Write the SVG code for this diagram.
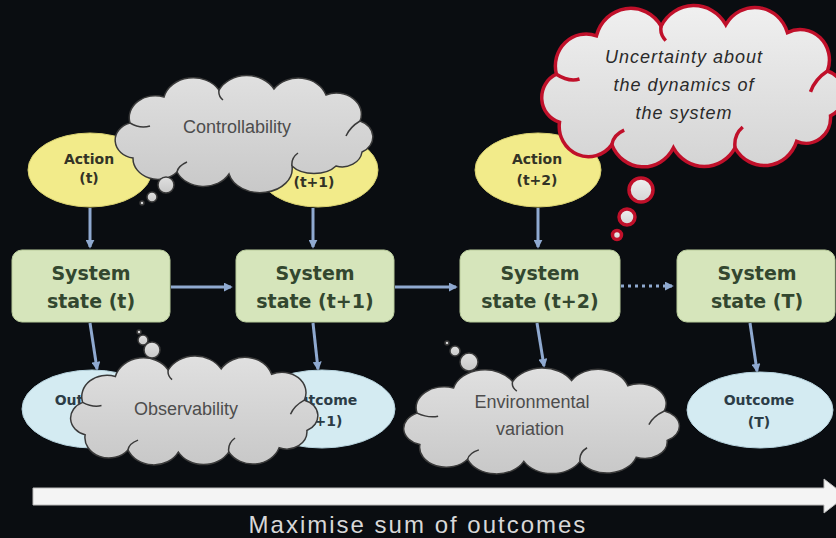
<svg xmlns="http://www.w3.org/2000/svg" xmlns:xlink="http://www.w3.org/1999/xlink" width="836" height="538" viewBox="0 0 836 538">
<defs>
<style>
.box{fill:#d6e5bb;stroke:#b9cc9c;stroke-width:1}
.act{fill:#f2eb8a;stroke:#d8d070;stroke-width:1}
.out{fill:#d4ebf2;stroke:#b7d3de;stroke-width:1}
.st{font-family:"DejaVu Sans",sans-serif;font-weight:bold;font-size:19px;fill:#33472f;text-anchor:middle}
.sm{font-family:"DejaVu Sans",sans-serif;font-weight:bold;font-size:14px;fill:#333326;text-anchor:middle}
.so{font-family:"DejaVu Sans",sans-serif;font-weight:bold;font-size:14px;fill:#2c3c46;text-anchor:middle}
.cl{font-family:"Liberation Sans",Arial,sans-serif;font-size:18px;fill:#4d4d4d;text-anchor:middle}
.un{font-family:"Liberation Sans",Arial,sans-serif;font-style:italic;font-size:18px;fill:#2a2a2a;text-anchor:middle;letter-spacing:1px}
.con{stroke:#8fa9d0;stroke-width:3;fill:none}
.grey{fill:url(#gGrey);stroke:#3a3a3a;stroke-width:1.5}
.red{fill:url(#gRed);stroke:#c0102a;stroke-width:3.5}
</style>
<linearGradient id="gGrey" x1="0" y1="0" x2="0" y2="1">
<stop offset="0" stop-color="#e0e0e0"/><stop offset="1" stop-color="#c8c8c8"/>
</linearGradient>
<linearGradient id="gRed" x1="0" y1="0" x2="0" y2="1">
<stop offset="0" stop-color="#f0f0f0"/><stop offset="1" stop-color="#d4d4d4"/>
</linearGradient>
<marker id="ah" viewBox="0 0 10 10" refX="8" refY="5" markerWidth="9" markerHeight="9" markerUnits="userSpaceOnUse" orient="auto">
<path d="M0,0 L10,5 L0,10 Z" fill="#8fa9d0"/>
</marker>
<symbol id="cloud" viewBox="0 0 200 100" preserveAspectRatio="none" style="overflow:visible">
<path vector-effect="non-scaling-stroke" d="M12,72 A16 16 0 0 1 10,42 A20 20 0 0 1 36,18 A23 23 0 0 1 78,12 A24 24 0 0 1 120,11 A22 22 0 0 1 160,16 A19 19 0 0 1 186,40 A15 15 0 0 1 188,68 A16 16 0 0 1 166,84 A22 22 0 0 1 126,88 A23 23 0 0 1 86,88 A22 22 0 0 1 46,86 A19 19 0 0 1 12,72 Z"/>
<path vector-effect="non-scaling-stroke" fill="none" d="M10,42 q8,5 15,3 M186,40 q-8,5 -11,13 M126,88 q-1,-8 5,-13 M46,86 q1,-6 8,-9 M78,12 q-1,5 3,9"/>
</symbol>
</defs>
<rect x="0" y="0" width="836" height="538" fill="#0a0d11"/>

<g id="connectors">
<line class="con" x1="90" y1="208" x2="90" y2="247" marker-end="url(#ah)"/>
<line class="con" x1="313" y1="208" x2="313" y2="247" marker-end="url(#ah)"/>
<line class="con" x1="538" y1="208" x2="538" y2="247" marker-end="url(#ah)"/>
<line class="con" x1="171" y1="287" x2="231" y2="287" marker-end="url(#ah)"/>
<line class="con" x1="395" y1="287" x2="456" y2="287" marker-end="url(#ah)"/>
<line class="con" x1="621" y1="286" x2="672" y2="286" stroke-dasharray="3 4" marker-end="url(#ah)"/>
<line class="con" x1="90" y1="323" x2="97" y2="369" marker-end="url(#ah)"/>
<line class="con" x1="313" y1="323" x2="318" y2="369" marker-end="url(#ah)"/>
<line class="con" x1="537" y1="323" x2="544" y2="366" marker-end="url(#ah)"/>
<line class="con" x1="750" y1="323" x2="757" y2="371" marker-end="url(#ah)"/>
</g>

<g id="action-t">
<ellipse class="act" cx="90" cy="170" rx="62" ry="37"/>
<text class="sm" x="89" y="164">Action</text>
<text class="sm" x="89" y="183">(t)</text>
</g>
<g id="action-t1">
<ellipse class="act" cx="318" cy="170" rx="60" ry="37"/>
<text class="sm" x="314" y="164">Action</text>
<text class="sm" x="314" y="187">(t+1)</text>
</g>
<g id="action-t2">
<ellipse class="act" cx="538" cy="170" rx="63" ry="37"/>
<text class="sm" x="537" y="164">Action</text>
<text class="sm" x="537" y="185">(t+2)</text>
</g>

<g id="state-t">
<rect class="box" x="12" y="250" width="158" height="72" rx="10"/>
<text class="st" x="91" y="280">System</text>
<text class="st" x="91" y="308">state (t)</text>
</g>
<g id="state-t1">
<rect class="box" x="236" y="250" width="158" height="72" rx="10"/>
<text class="st" x="315" y="280">System</text>
<text class="st" x="315" y="308">state (t+1)</text>
</g>
<g id="state-t2">
<rect class="box" x="460" y="250" width="160" height="72" rx="10"/>
<text class="st" x="540" y="280">System</text>
<text class="st" x="540" y="308">state (t+2)</text>
</g>
<g id="state-T">
<rect class="box" x="677" y="250" width="158" height="72" rx="10"/>
<text class="st" x="757" y="280">System</text>
<text class="st" x="757" y="308">state (T)</text>
</g>

<g id="outcome-t">
<ellipse class="out" cx="92" cy="409" rx="70" ry="39"/>
<text class="so" x="90" y="405">Outcome</text>
<text class="so" x="90" y="426">(t)</text>
</g>
<g id="outcome-t1">
<ellipse class="out" cx="322" cy="409" rx="73" ry="39"/>
<text class="so" x="322" y="405">Outcome</text>
<text class="so" x="322" y="426">(t+1)</text>
</g>
<g id="outcome-T">
<ellipse class="out" cx="760" cy="410" rx="73" ry="38"/>
<text class="so" x="759" y="405">Outcome</text>
<text class="so" x="759" y="427">(T)</text>
</g>

<g id="cloud-controllability">
<path class="grey" d="M133,158 A21 18 0 0 1 130,123 A26 22 0 0 1 164,97 A30 25 0 0 1 219,90 A31 26 0 0 1 274,89 A29 24 0 0 1 326,95 A25 21 0 0 1 360,121 A20 17 0 0 1 362,152 A20 17 0 0 1 336,166 A26 16 0 0 1 292,166 A32 24 0 0 1 229,174 A29 24 0 0 1 177,172 A25 21 0 0 1 133,158 Z"/>
<path class="grey" fill="none" d="M130,123 q10,6 20,3 M360,121 q-10,6 -14,15 M292,166 q-1,-8 6,-13 M177,172 q1,-6 10,-10 M219,90 q-1,6 4,10"/>
<circle class="grey" cx="166" cy="185" r="8"/>
<circle class="grey" cx="152" cy="197" r="5"/>
<circle class="grey" cx="142" cy="203" r="2"/>
<text class="cl" x="237" y="133">Controllability</text>
</g>

<g id="cloud-observability">
<use href="#cloud" xlink:href="#cloud" class="grey" x="70" y="357" width="252" height="108"/>
<circle class="grey" cx="152" cy="350" r="8"/>
<circle class="grey" cx="143" cy="340" r="5"/>
<circle class="grey" cx="139" cy="332" r="2"/>
<text class="cl" x="186" y="415">Observability</text>
</g>

<g id="cloud-environment">
<use href="#cloud" xlink:href="#cloud" class="grey" x="403" y="369" width="281" height="105"/>
<circle class="grey" cx="469" cy="362" r="9"/>
<circle class="grey" cx="455" cy="351" r="5"/>
<circle class="grey" cx="447" cy="343" r="2"/>
<text class="cl" x="532" y="408">Environmental</text>
<text class="cl" x="530" y="435">variation</text>
</g>

<g id="cloud-uncertainty">
<use href="#cloud" xlink:href="#cloud" class="red" x="541" y="7" width="308" height="160"/>
<circle class="red" cx="641" cy="190" r="12"/>
<circle class="red" cx="627" cy="217" r="8"/>
<circle class="red" cx="617" cy="235" r="4.5"/>
<text class="un" x="684" y="63">Uncertainty about</text>
<text class="un" x="684" y="91">the dynamics of</text>
<text class="un" x="684" y="119">the system</text>
</g>

<g id="timeline">
<path d="M33,488 L824,488 L824,479 L846,496 L824,513 L824,505 L33,505 Z" fill="#f4f4f4" stroke="#bdbdbd" stroke-width="1"/>
<text x="418" y="533" font-family="'Liberation Sans',Arial,sans-serif" font-size="24" fill="#d8d8d8" text-anchor="middle" letter-spacing="2">Maximise sum of outcomes</text>
</g>
</svg>
